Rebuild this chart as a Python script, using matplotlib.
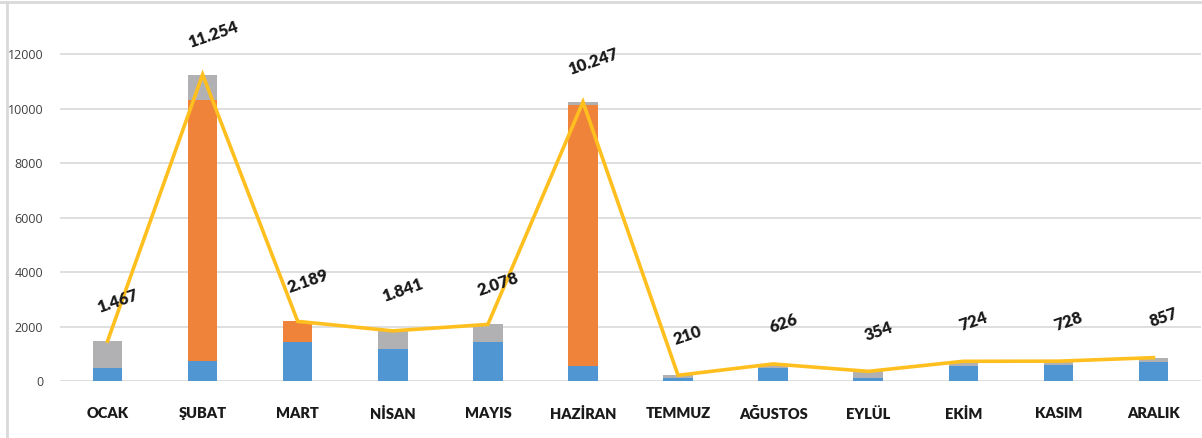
import numpy as np
import matplotlib.pyplot as plt
from matplotlib.lines import Line2D

# months and stacked series
months = ['OCAK', 'ŞUBAT', 'MART', 'NİSAN', 'MAYIS', 'HAZİRAN',
          'TEMMUZ', 'AĞUSTOS', 'EYLÜL', 'EKİM', 'KASIM', 'ARALIK']
blue = [480, 750, 1442, 1163, 1431, 550, 110, 490, 120, 550, 600, 710]
orange = [0, 9570, 747, 0, 0, 9578, 0, 0, 0, 0, 0, 0]
gray = [987, 934, 0, 678, 647, 119, 100, 136, 234, 174, 128, 147]
totals = [1467, 11254, 2189, 1841, 2078, 10247, 210, 626, 354, 724, 728, 857]
total_labels = ['1.467', '11.254', '2.189', '1.841', '2.078', '10.247',
                '210', '626', '354', '724', '728', '857']
yticks = [0, 2000, 4000, 6000, 8000, 10000, 12000]

plt.rcParams['font.family'] = ['Open Sans', 'DejaVu Sans']
bold_font = ['Lato', 'Open Sans', 'DejaVu Sans']

fig = plt.figure(figsize=(12.02, 4.38), dpi=100)
ax = fig.add_axes([60 / 1202, 57 / 438, 1141 / 1202, 354 / 438])

x = np.arange(len(months))
w = 0.31
c_blue, c_orange, c_gray, c_line = '#5096D2', '#F0833A', '#B1B1B4', '#FFBF1F'

ax.bar(x, blue, width=w, color=c_blue, zorder=2)
ax.bar(x, orange, width=w, bottom=blue, color=c_orange, zorder=2)
bot2 = np.array(blue) + np.array(orange)
ax.bar(x, gray, width=w, bottom=bot2, color=c_gray, zorder=2)

ax.plot(x, totals, color=c_line, lw=2.6, zorder=3, solid_joinstyle='miter')

for xi, t, lab in zip(x, totals, total_labels):
    ax.annotate(lab, (xi, t), xytext=(10, 40), textcoords='offset pixels',
                ha='center', va='center', rotation=19, fontsize=12,
                fontweight='heavy', family=bold_font, color='#1a1a1a', zorder=4)

ax.set_xlim(-0.5, 11.5)
ax.set_ylim(0, 13000)
ax.set_yticks(yticks)
ax.set_yticklabels([str(v) for v in yticks], fontsize=9, color='#404040')
ax.set_xticks(x)
ax.set_xticklabels(months, fontsize=10.5, fontweight='heavy', family=bold_font,
                   color='#1a1a1a')
ax.tick_params(axis='both', length=0)
ax.tick_params(axis='x', pad=19)
ax.tick_params(axis='y', pad=12)
ax.grid(axis='y', color='#DCDCDC', lw=1.3, zorder=0)
for s in ax.spines.values():
    s.set_visible(False)

# light frame around the figure
fig.add_artist(Line2D([0, 1], [1 - 2 / 438, 1 - 2 / 438], color='#D9D9D9', lw=2))
fig.add_artist(Line2D([7 / 1202, 7 / 1202], [0, 1 - 2 / 438], color='#D9D9D9', lw=2))

fig.savefig('out.png', dpi=100)
